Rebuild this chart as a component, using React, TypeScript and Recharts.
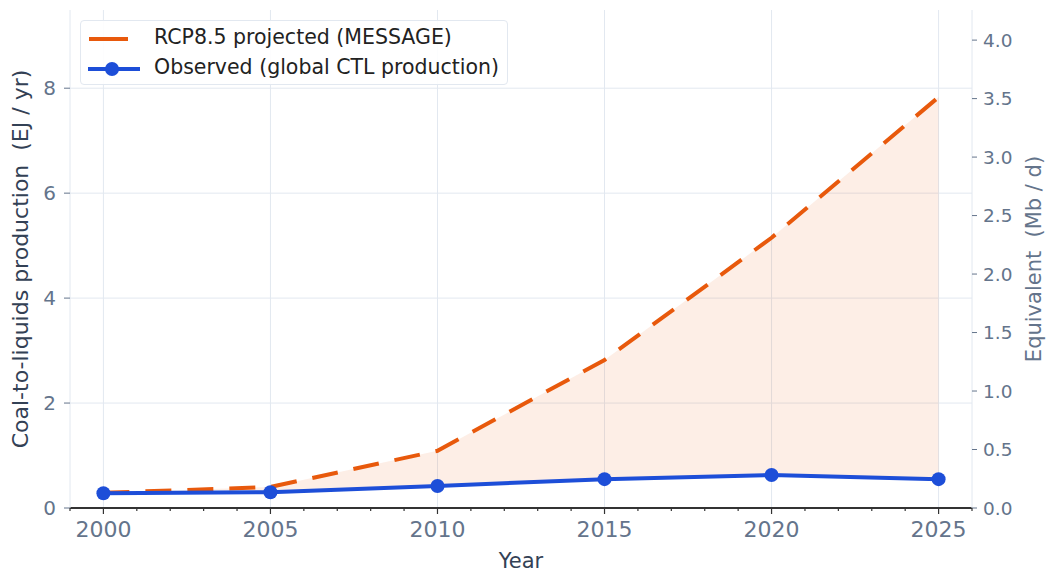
import React from "react";
import {
  Area,
  CartesianGrid,
  ComposedChart,
  Line,
  XAxis,
  YAxis,
} from "recharts";

// values (EJ / yr)
const years = [2000, 2005, 2010, 2015, 2020, 2025];
const rcpProjected = [0.29, 0.4, 1.09, 2.82, 5.15, 7.83];
const observed = [0.28, 0.3, 0.42, 0.55, 0.63, 0.55];

const yearTicks = [
  1999, 2000, 2001, 2002, 2003, 2004, 2005, 2006, 2007, 2008, 2009, 2010,
  2011, 2012, 2013, 2014, 2015, 2016, 2017, 2018, 2019, 2020, 2021, 2022,
  2023, 2024, 2025, 2026,
];
const majorYears = [2000, 2005, 2010, 2015, 2020, 2025];
const leftTicks = [0, 2, 4, 6, 8];
const rightTicks = [0, 0.5, 1, 1.5, 2, 2.5, 3, 3.5, 4];

const EJ_PER_MBD = 2.229; // 1 Mb/d ~ 2.23 EJ/yr
const LEFT_MAX = 9.49;

const ORANGE = "#e8590c";
const BLUE = "#1d4ed8";
const TICK = "#64748b";
const TITLE = "#334155";
const GRID = "#e2e8f0";
const FONT = "'DejaVu Sans', sans-serif";

const data = years.map((year, i) => ({
  year,
  rcp: rcpProjected[i],
  observed: observed[i],
  band: [observed[i], rcpProjected[i]],
}));

function YearTick(props: any) {
  const { x, y, payload } = props;
  const major = majorYears.includes(payload.value);
  return (
    <g>
      <line x1={x} x2={x} y1={y} y2={y + (major ? 6 : 3)} stroke="#333" strokeWidth={1.2} />
      {major && (
        <text x={x} y={y + 29} textAnchor="middle" fill={TICK} fontSize={22} fontFamily={FONT}>
          {payload.value}
        </text>
      )}
    </g>
  );
}

function LegendBox() {
  return (
    <div
      style={{
        position: "absolute",
        left: 80,
        top: 20,
        width: 428,
        height: 65,
        boxSizing: "border-box",
        background: "rgba(255,255,255,0.9)",
        border: "1px solid #e2e8f0",
        borderRadius: 4,
        fontFamily: FONT,
        fontSize: 20.5,
        color: "#222",
      }}
    >
      <svg width={428} height={65} style={{ position: "absolute", left: 0, top: 0 }}>
        <line x1={8} x2={47} y1={18} y2={18} stroke={ORANGE} strokeWidth={4} />
        <line x1={7} x2={59} y1={48} y2={48} stroke={BLUE} strokeWidth={4} />
        <circle cx={31} cy={48} r={7} fill={BLUE} />
      </svg>
      <div style={{ position: "absolute", left: 73, top: 4, whiteSpace: "nowrap" }}>
        RCP8.5 projected (MESSAGE)
      </div>
      <div style={{ position: "absolute", left: 73, top: 34, whiteSpace: "nowrap" }}>
        Observed (global CTL production)
      </div>
    </div>
  );
}

export default function App() {
  return (
    <div style={{ position: "absolute", left: 0, top: 0, width: 1046, height: 572, background: "#fff" }}>
      <ComposedChart
        width={1046}
        height={572}
        data={data}
        margin={{ top: 10, right: 0, bottom: 0, left: 0 }}
        style={{ fontFamily: FONT }}
      >
        <CartesianGrid
          yAxisId="left"
          stroke={GRID}
          horizontalValues={leftTicks}
          verticalValues={majorYears}
        />
        <XAxis
          dataKey="year"
          type="number"
          domain={[1999, 2026]}
          ticks={yearTicks}
          interval={0}
          height={64}
          tickSize={0}
          tickMargin={0}
          tickLine={false}
          axisLine={{ stroke: "#333", strokeWidth: 2 }}
          tick={<YearTick />}
          label={{ value: "Year", position: "insideBottom", offset: 4, fill: TITLE, fontSize: 21 }}
        />
        <YAxis
          yAxisId="left"
          width={70}
          domain={[0, LEFT_MAX]}
          ticks={leftTicks}
          allowDataOverflow
          axisLine={{ stroke: GRID }}
          tickLine={{ stroke: TICK }}
          tickSize={6}
          tickMargin={8}
          tick={{ fill: TICK, fontSize: 20 }}
          label={{
            value: "Coal-to-liquids production\u00a0 (EJ / yr)",
            angle: -90,
            position: "center",
            dx: -15,
            fill: TITLE,
            fontSize: 22,
          }}
        />
        <YAxis
          yAxisId="right"
          orientation="right"
          width={74}
          domain={[0, LEFT_MAX / EJ_PER_MBD]}
          ticks={rightTicks}
          allowDataOverflow
          axisLine={{ stroke: GRID }}
          tickLine={{ stroke: TICK }}
          tickSize={5}
          tickMargin={6}
          tickFormatter={(v: number) => v.toFixed(1)}
          tick={{ fill: TICK, fontSize: 18.5 }}
          label={{
            value: "Equivalent\u00a0 (Mb / d)",
            angle: -90,
            position: "center",
            dx: 25,
            fill: TICK,
            fontSize: 21,
          }}
        />
        <Area
          yAxisId="left"
          dataKey="band"
          type="linear"
          fill={ORANGE}
          fillOpacity={0.1}
          stroke="none"
          isAnimationActive={false}
        />
        <Line
          yAxisId="left"
          dataKey="rcp"
          type="linear"
          stroke={ORANGE}
          strokeWidth={4}
          strokeDasharray="26 16"
          dot={false}
          activeDot={false}
          isAnimationActive={false}
        />
        <Line
          yAxisId="left"
          dataKey="observed"
          type="linear"
          stroke={BLUE}
          strokeWidth={4}
          dot={{ r: 7, fill: BLUE, stroke: BLUE, strokeWidth: 0 }}
          activeDot={false}
          isAnimationActive={false}
        />
      </ComposedChart>
      <LegendBox />
    </div>
  );
}
